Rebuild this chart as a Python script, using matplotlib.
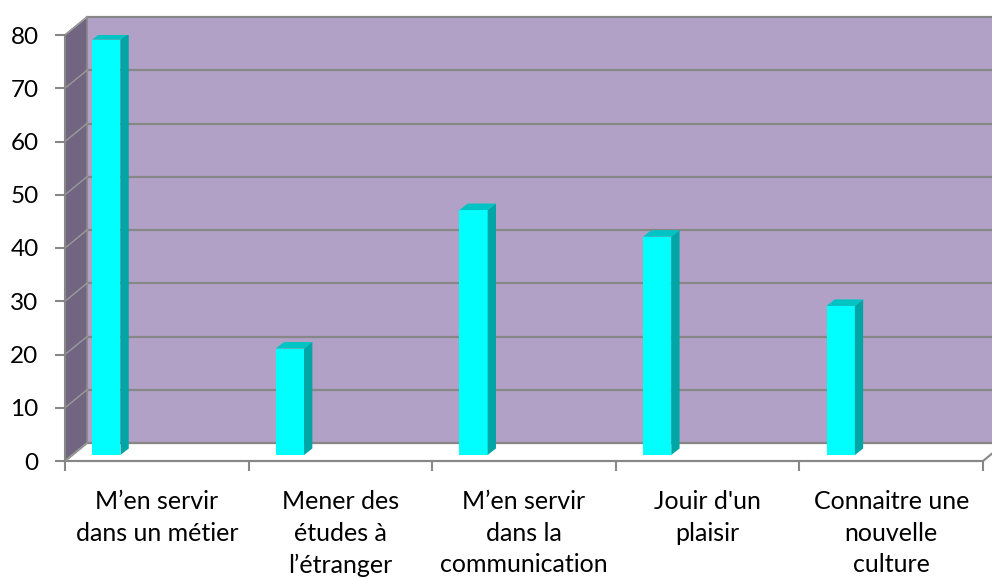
import numpy as np
import matplotlib
matplotlib.use("Agg")
import matplotlib.pyplot as plt
from matplotlib.patches import Polygon

plt.rcParams['font.family'] = ['Lato', 'DejaVu Sans']

categories = [
    "M\u2019en servir\ndans un métier",
    "Mener des\nétudes à\nl\u2019étranger",
    "M\u2019en servir\ndans la\ncommunication",
    "Jouir d'un\nplaisir",
    "Connaitre une\nnouvelle\nculture",
]
values = [78, 20, 46, 41, 28]
yticks = [0, 10, 20, 30, 40, 50, 60, 70, 80]

W, H = 992, 578
fig = plt.figure(figsize=(W / 100, H / 100), dpi=100)
x0_px, x1_px = 65, 983
y0_px, y80_px = 461, 35
ax = fig.add_axes([x0_px / W, 1 - y0_px / H, (x1_px - x0_px) / W, (y0_px - y80_px) / H])
n = len(categories)
ax.set_xlim(0, n)
ax.set_ylim(0, 80)
for s in ax.spines.values():
    s.set_visible(False)
ax.patch.set_alpha(0)

# 3D depth in data units
px_x = n / (x1_px - x0_px)
px_y = 80 / (y0_px - y80_px)
ddx, ddy = 22 * px_x, 18 * px_y
ymax = 80

grid_col = "#878787"
wall_col = "#B1A1C7"
side_col = "#726582"

# back wall
ax.add_patch(Polygon([(ddx, ddy), (n + ddx + 1, ddy), (n + ddx + 1, ymax + ddy), (ddx, ymax + ddy)],
                     closed=True, facecolor=wall_col, edgecolor="none", clip_on=False, zorder=1))
# side wall
ax.add_patch(Polygon([(0, 0), (ddx, ddy), (ddx, ymax + ddy), (0, ymax)],
                     closed=True, facecolor=side_col, edgecolor=grid_col, lw=1.2, clip_on=False, zorder=1))
# floor
ax.add_patch(Polygon([(0, 0), (n, 0), (n + ddx, ddy), (ddx, ddy)],
                     closed=True, facecolor="white", edgecolor=grid_col, lw=1.5, clip_on=False, zorder=1))
# gridlines
for v in yticks:
    ax.plot([ddx, n + ddx + 1], [v + ddy, v + ddy], color=grid_col, lw=1.6, clip_on=False, zorder=2)
    ax.plot([0, ddx], [v, v + ddy], color="#9A9A9A", lw=1.0, clip_on=False, zorder=2)

# axes lines & ticks
ax.plot([0, 0], [0, ymax], color=grid_col, lw=1.5, clip_on=False, zorder=3)
ax.plot([0, n], [0, 0], color=grid_col, lw=1.5, clip_on=False, zorder=3)
ax.set_yticks(yticks)
ax.set_xticks(np.arange(n + 1))
ax.set_xticklabels([])
ax.tick_params(axis="y", length=7, width=1.5, color=grid_col, labelsize=17.5, pad=12)
ax.tick_params(axis="x", length=7, width=1.5, color=grid_col, direction="out")
for i, lab in enumerate(categories):
    ax.text(i + 0.5, -5.5, lab, ha="center", va="top", fontsize=18, linespacing=1.45)

# bars
bw = 28.3 * px_x
off_y = 6 * px_y
bdx, bdy = 8.3 * px_x, 6.5 * px_y
centers = np.arange(n) + 0.225
ax.bar(centers, values, width=bw, bottom=off_y, color="#00FFFF", edgecolor="none", zorder=5)
for c, v in zip(centers, values):
    l, r = c - bw / 2, c + bw / 2
    top = v + off_y
    ax.add_patch(Polygon([(r, off_y), (r + bdx, off_y + bdy), (r + bdx, top + bdy), (r, top)],
                         closed=True, facecolor="#00A5A5", edgecolor="none", zorder=5))
    ax.add_patch(Polygon([(l, top), (r, top), (r + bdx, top + bdy), (l + bdx, top + bdy)],
                         closed=True, facecolor="#00C4C4", edgecolor="none", zorder=5))

fig.savefig("out.png", dpi=100)
